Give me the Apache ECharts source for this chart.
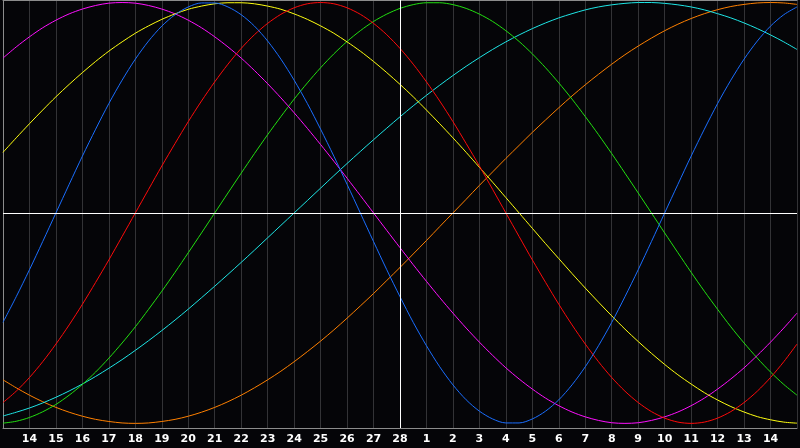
<!DOCTYPE html>
<html>
<head>
<meta charset="utf-8">
<script src="https://cdn.jsdelivr.net/npm/echarts@6/dist/echarts.min.js"></script>
<style>
html,body{margin:0;padding:0;background:#050508;}
#c{width:800px;height:448px;}
</style>
</head>
<body>
<div id="c"></div>
<script>
// tick labels for day positions 0..30 (edge days 0 and 30 are not labelled)
const days = ['13','14','15','16','17','18','19','20','21','22','23','24','25','26','27','28',
  '1','2','3','4','5','6','7','8','9','10','11','12','13','14','15'];
const todayPos = 15;
const step = 0.5; // readings every half day

const blue = [-52.0,-39.8,-27.0,-13.6,0,13.6,27.0,39.8,52.0,63.1,73.1,81.7,88.8,94.2,97.9,99.8,99.8,97.9,94.2,88.8,81.7,73.1,63.1,52.0,39.8,27.0,13.6,0,-13.6,-27.0,-39.8,-52.0,-63.1,-73.1,-81.7,-88.8,-94.2,-97.9,-99.8,-99.8,-97.9,-94.2,-88.8,-81.7,-73.1,-63.1,-52.0,-39.8,-27.0,-13.6,0,13.6,27.0,39.8,52.0,63.1,73.1,81.7,88.8,94.2,97.9];
const red = [-90.1,-84.7,-78.2,-70.7,-62.3,-53.2,-43.4,-33.0,-22.3,-11.2,0,11.2,22.3,33.0,43.4,53.2,62.3,70.7,78.2,84.7,90.1,94.4,97.5,99.4,100,99.4,97.5,94.4,90.1,84.7,78.2,70.7,62.3,53.2,43.4,33.0,22.3,11.2,0,-11.2,-22.3,-33.0,-43.4,-53.2,-62.3,-70.7,-78.2,-84.7,-90.1,-94.4,-97.5,-99.4,-100,-99.4,-97.5,-94.4,-90.1,-84.7,-78.2,-70.7,-62.3];
const green = [-99.9,-99.0,-97.2,-94.5,-91.0,-86.6,-81.5,-75.6,-69.0,-61.8,-54.1,-45.8,-37.2,-28.2,-18.9,-9.5,0,9.5,18.9,28.2,37.2,45.8,54.1,61.8,69.0,75.6,81.5,86.6,91.0,94.5,97.2,99.0,99.9,99.9,99.0,97.2,94.5,91.0,86.6,81.5,75.6,69.0,61.8,54.1,45.8,37.2,28.2,18.9,9.5,0,-9.5,-18.9,-28.2,-37.2,-45.8,-54.1,-61.8,-69.0,-75.6,-81.5,-86.6];
const cyan = [-96.5,-94.7,-92.7,-90.3,-87.6,-84.6,-81.3,-77.7,-73.8,-69.7,-65.3,-60.7,-55.9,-50.9,-45.7,-40.3,-34.8,-29.2,-23.5,-17.7,-11.8,-5.9,0,5.9,11.8,17.7,23.5,29.2,34.8,40.3,45.7,50.9,55.9,60.7,65.3,69.7,73.8,77.7,81.3,84.6,87.6,90.3,92.7,94.7,96.5,97.9,98.9,99.6,100,100,99.6,98.9,97.9,96.5,94.7,92.7,90.3,87.6,84.6,81.3,77.7];
const orange = [-79.3,-83.1,-86.6,-89.7,-92.4,-94.7,-96.6,-98.1,-99.1,-99.8,-100,-99.8,-99.1,-98.1,-96.6,-94.7,-92.4,-89.7,-86.6,-83.1,-79.3,-75.2,-70.7,-65.9,-60.9,-55.6,-50.0,-44.2,-38.3,-32.1,-25.9,-19.5,-13.1,-6.5,0,6.5,13.1,19.5,25.9,32.1,38.3,44.2,50.0,55.6,60.9,65.9,70.7,75.2,79.3,83.1,86.6,89.7,92.4,94.7,96.6,98.1,99.1,99.8,100,99.8,99.1];
const magenta = [73.6,78.9,83.7,88.0,91.6,94.6,96.9,98.6,99.7,100,99.7,98.6,96.9,94.6,91.6,88.0,83.7,78.9,73.6,67.7,61.4,54.7,47.6,40.2,32.5,24.6,16.5,8.3,0,-8.3,-16.5,-24.6,-32.5,-40.2,-47.6,-54.7,-61.4,-67.7,-73.6,-78.9,-83.7,-88.0,-91.6,-94.6,-96.9,-98.6,-99.7,-100,-99.7,-98.6,-96.9,-94.6,-91.6,-88.0,-83.7,-78.9,-73.6,-67.7,-61.4,-54.7,-47.6];
const yellow = [28.8,35.7,42.4,48.9,55.2,61.1,66.7,72.0,76.9,81.3,85.4,88.9,92.0,94.6,96.8,98.3,99.4,99.9,99.9,99.4,98.3,96.8,94.6,92.0,88.9,85.4,81.3,76.9,72.0,66.7,61.1,55.2,48.9,42.4,35.7,28.8,21.7,14.6,7.3,0,-7.3,-14.6,-21.7,-28.8,-35.7,-42.4,-48.9,-55.2,-61.1,-66.7,-72.0,-76.9,-81.3,-85.4,-88.9,-92.0,-94.6,-96.8,-98.3,-99.4,-99.9];

const curves = [
  {name:'orange', data:orange, color:'#ff8000'},
  {name:'cyan', data:cyan, color:'#1ee6e6'},
  {name:'green', data:green, color:'#22e010'},
  {name:'magenta', data:magenta, color:'#ff10ff'},
  {name:'yellow', data:yellow, color:'#ffff10'},
  {name:'red', data:red, color:'#ff0a0a'},
  {name:'blue', data:blue, color:'#1a6eff'}
];

const chart = echarts.init(document.getElementById('c'), null, {renderer:'canvas'});
const series = curves.map(c => ({
  name:c.name, type:'line', data:c.data.map((v,i) => [i*step, v]),
  smooth:0.3, showSymbol:false, silent:true,
  lineStyle:{color:c.color, width:1}, animation:false
}));
series.push({
  type:'line', data:[], silent:true, animation:false,
  markLine:{
    silent:true, symbol:'none', label:{show:false}, animation:false,
    lineStyle:{color:'#ffffff', width:1, type:'solid'},
    data:[{yAxis:0},{xAxis:todayPos}]
  }
});

const baseX = {
  type:'value', min:0, max:days.length-1, interval:1,
  axisTick:{show:false}
};
chart.setOption({
  backgroundColor:'#050508',
  animation:false,
  grid:{left:0, right:0, top:0, bottom:20, containLabel:false},
  xAxis:[Object.assign({}, baseX, {
    position:'bottom',
    axisLine:{show:true, onZero:false, lineStyle:{color:'#8c8c8c', width:1}},
    splitLine:{show:true, lineStyle:{color:'#333336', width:1}},
    axisLabel:{
      showMinLabel:true, showMaxLabel:true,
      formatter:function(v){ return (v>0 && v<days.length-1) ? days[Math.round(v)] : ''; },
      color:'#ffffff', fontFamily:'DejaVu Sans', fontWeight:'bold', fontSize:11, margin:6
    }
  }), Object.assign({}, baseX, {
    position:'top',
    axisLine:{show:true, onZero:false, lineStyle:{color:'#8c8c8c', width:1}},
    axisLabel:{show:false}, splitLine:{show:false}
  })],
  yAxis:{
    type:'value', min:-102.2, max:101.2,
    axisLine:{show:true, lineStyle:{color:'#8c8c8c', width:1}},
    axisTick:{show:false}, axisLabel:{show:false}, splitLine:{show:false}
  },
  series:series
});
</script>
</body>
</html>
